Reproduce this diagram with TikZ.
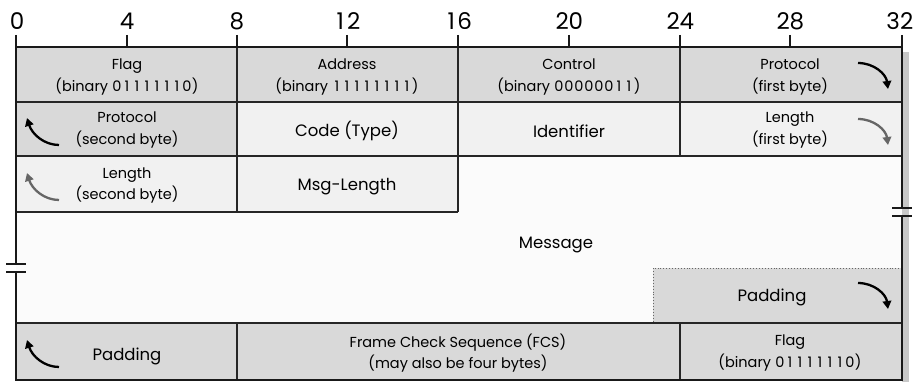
\documentclass[tikz,border=0pt]{standalone}
\usepackage{fontspec}
\setmainfont{Poppins}
\usetikzlibrary{arrows.meta}
\definecolor{cgray}{HTML}{D9D9D9}
\definecolor{clight}{HTML}{F1F1F1}
\definecolor{cwhite}{HTML}{FBFBFB}
\definecolor{cshadow}{HTML}{C8C8C8}
\definecolor{carrgray}{HTML}{666666}
\newlength{\digw}
\def\tabd#1{\ifx\relax#1\else\makebox[\digw]{#1}\expandafter\tabd\fi}
\begin{document}
\begin{tikzpicture}[x=1pt,y=-1pt,
  cell/.style={font=\fontsize{14.5}{21.5}\selectfont\setlength{\digw}{10pt}, align=center, inner sep=0pt, text=black},
  bigcell/.style={font=\fontsize{16.5}{19}\selectfont, align=center, inner sep=0pt, text=black},
  num/.style={font=\fontsize{23}{23}\selectfont\setlength{\digw}{13.5pt}, inner sep=0pt},
  grid/.style={line width=1.3pt, black!85},
  axis/.style={line width=2.2pt, black!90},
  arr/.style={line width=2.3pt, -{Triangle[length=8pt,width=8.5pt]}},
]
\useasboundingbox (0,0) rectangle (918,382);
% shadow
\fill[cshadow] (902,52) rectangle (909,382);
% fills
\fill[cgray] (16,47) rectangle (902,102);
\fill[cgray] (16,102) rectangle (237,156);
\fill[clight] (237,102) rectangle (902,156);
\fill[clight] (16,156) rectangle (458,212);
\fill[cwhite] (458,156) rectangle (902,212);
\fill[cwhite] (16,212) rectangle (902,323);
\fill[cgray] (16,323) rectangle (902,380);
% padding box (dotted)
\fill[cgray] (653,268) rectangle (902,323);
\draw[line width=0.9pt, black!60, dotted] (902,268) -- (653,268) -- (653,323);
% grid lines
\draw[grid] (16,102) -- (902,102);
\draw[grid] (16,156) -- (902,156);
\draw[grid] (16,212) -- (458,212);
\draw[grid] (16,323) -- (902,323);
\draw[grid] (237,47) -- (237,212);
\draw[grid] (458,47) -- (458,212);
\draw[grid] (680,47) -- (680,156);
\draw[grid] (237,323) -- (237,380);
\draw[grid] (680,323) -- (680,380);
\draw[axis] (16,380) -- (902,380);
\draw[line width=2.6pt, black!90] (16,47) -- (902,47);
% ticks
\foreach \x in {127,237,347,458,569,680,790} \draw[axis] (\x,35) -- (\x,47);
% axes with breaks
\draw[axis] (16,35) -- (16,264);
\draw[axis] (16,272) -- (16,381);
\draw[axis] (6,264) -- (26,264);
\draw[axis] (6,272) -- (26,272);
\draw[axis] (902,35) -- (902,208);
\draw[axis] (902,216) -- (902,381);
\draw[axis] (892,208) -- (912,208);
\draw[axis] (892,216) -- (912,216);
% numbers
\node[num] (n0) at (17,21) {0};
\node[num] (n4) at (127,21) {4};
\node[num] (n8) at (237,21) {8};
\node[num] (n12) at (347,21) {\tabd 12\relax};
\node[num] (n16) at (458,21) {\tabd 16\relax};
\node[num] (n20) at (569,21) {\tabd 20\relax};
\node[num] (n24) at (680,21) {\tabd 24\relax};
\node[num] (n28) at (790,21) {\tabd 28\relax};
\node[num] (n32) at (900,21) {\tabd 32\relax};
% row 1
\node[cell] (flag1) at (127,77) {Flag\\(binary \tabd 01111110\relax)};
\node[cell] (addr) at (347,77) {Address\\(binary \tabd 11111111\relax)};
\node[cell] (ctrl) at (569,77) {Control\\(binary \tabd 00000011\relax)};
\node[cell] (prot1) at (790,77) {Protocol\\(first byte)};
% row 2
\node[cell] (prot2) at (127,130) {Protocol\\(second byte)};
\node[bigcell] (code) at (347,131) {Code (Type)};
\node[bigcell] (ident) at (569,131) {Identifier};
\node[cell] (len1) at (790,130) {Length\\(first byte)};
% row 3
\node[cell] (len2) at (127,185.5) {Length\\(second byte)};
\node[bigcell] (mlen) at (347,187) {Msg-Length};
% message
\node[bigcell] (msg) at (556,245) {Message};
\node[bigcell] (pad1) at (772,297) {Padding};
% bottom row
\node[bigcell] (pad2) at (127,356) {Padding};
\node[cell] (fcs) at (458,353) {Frame Check Sequence (FCS)\\(may also be four bytes)};
\node[cell] (flag2) at (790,353) {Flag\\(binary \tabd 01111110\relax)};
% arrows
\draw[arr] (858,63) .. controls (874,63) and (886,74) .. (888,89);
\draw[arr, carrgray] (858,119) .. controls (874,119) and (886,130) .. (888,145);
\draw[arr] (858,283) .. controls (874,283) and (886,294) .. (888,309);
\draw[arr] (59,145) .. controls (44,145) and (32,134) .. (27,118);
\draw[arr, carrgray] (59,200) .. controls (44,200) and (32,189) .. (27,173);
\draw[arr] (59,367) .. controls (44,367) and (32,356) .. (27,340);
\end{tikzpicture}
\end{document}
